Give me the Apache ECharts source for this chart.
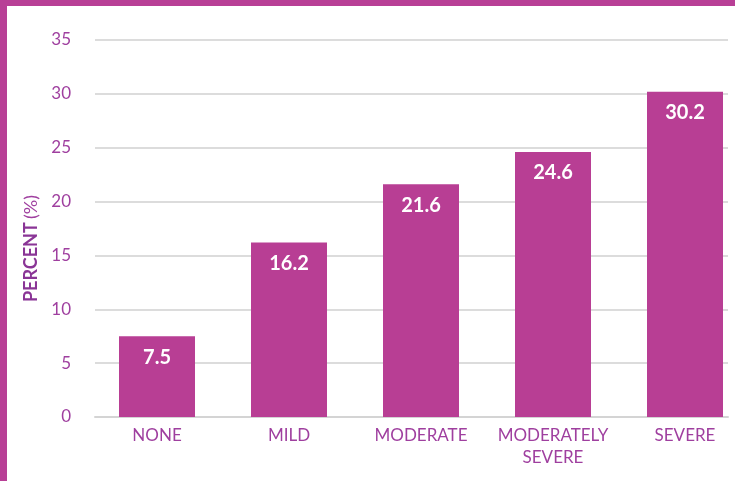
<!DOCTYPE html>
<html>
<head>
<meta charset="utf-8">
<script src="https://cdn.jsdelivr.net/npm/echarts@6/dist/echarts.min.js"></script>
<style>
  html, body { margin: 0; padding: 0; background: #fff; }
  #chart { position: absolute; left: 0; top: 0; width: 735px; height: 481px; }
  .edge { position: absolute; background: #b83f96; }
</style>
</head>
<body>
<div id="chart"></div>
<div class="edge" style="left:0;top:0;width:735px;height:6px;"></div>
<div class="edge" style="left:0;top:0;width:7px;height:481px;"></div>
<script>
// 数据
var categories = ['NONE', 'MILD', 'MODERATE', 'MODERATELY\nSEVERE', 'SEVERE'];
var percents = [7.5, 16.2, 21.6, 24.6, 30.2];
var yTicks = [0, 5, 10, 15, 20, 25, 30, 35];

(function () {
    var myChart = echarts.init(document.getElementById('chart'));
    var purple = '#9f3f9f';
    var font = 'Lato';
    var option = {
        animation: false,
        // grid 0: 柱子, grid 1: 网格线和刻度
        grid: [
            { left: 91, width: 660, top: 40, bottom: 64, outerBoundsMode: 'none', containLabel: false },
            { left: 95, right: 7, top: 40, bottom: 64, outerBoundsMode: 'none', containLabel: false }
        ],
        xAxis: [
            {
                type: 'category',
                gridIndex: 0,
                data: categories,
                axisTick: { show: false },
                axisLine: { show: false },
                axisLabel: {
                    color: purple,
                    fontSize: 17,
                    fontFamily: font,
                    lineHeight: 22,
                    margin: 8,
                    interval: 0
                }
            },
            {
                type: 'category',
                gridIndex: 1,
                data: categories,
                axisTick: { show: false },
                axisLabel: { show: false },
                axisLine: { lineStyle: { color: '#d4d4d4', width: 2 } }
            }
        ],
        yAxis: [
            {
                type: 'value',
                gridIndex: 0,
                min: yTicks[0],
                max: yTicks[yTicks.length - 1],
                interval: 5,
                show: false
            },
            {
                type: 'value',
                gridIndex: 1,
                min: yTicks[0],
                max: yTicks[yTicks.length - 1],
                interval: 5,
                name: '{b|PERCENT} {n|(%)}',
                nameLocation: 'middle',
                nameGap: 47,
                nameRotate: 90,
                nameTextStyle: {
                    padding: [0, 40, 0, 0],
                    rich: {
                        b: { color: '#8a3596', fontWeight: 'bold', fontSize: 18, fontFamily: font },
                        n: { color: purple, fontSize: 18, fontFamily: font }
                    }
                },
                axisLine: { show: false },
                axisTick: { show: false },
                axisLabel: {
                    color: purple,
                    fontSize: 17,
                    fontFamily: font,
                    margin: 24,
                    formatter: function (v) { return yTicks.indexOf(v) >= 0 ? String(v) : ''; }
                },
                splitLine: { lineStyle: { color: '#dcdcdc', width: 2 } }
            }
        ],
        series: [
            {
                type: 'bar',
                xAxisIndex: 0,
                yAxisIndex: 0,
                data: percents,
                barWidth: 76,
                itemStyle: { color: '#b83e94' },
                label: {
                    show: true,
                    position: 'insideTop',
                    distance: 11,
                    color: '#fff',
                    fontSize: 20,
                    fontWeight: 'bold',
                    fontFamily: font
                }
            }
        ]
    };
    myChart.setOption(option);
    window.addEventListener('resize', function () {
        myChart.resize();
    });
})();
</script>
</body>
</html>
